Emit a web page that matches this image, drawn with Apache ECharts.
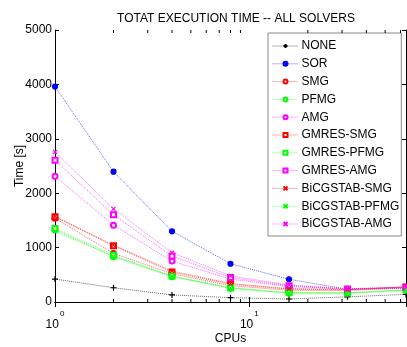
<!DOCTYPE html>
<html>
<head>
<meta charset="utf-8">
<script src="https://cdn.jsdelivr.net/npm/echarts@6/dist/echarts.min.js"></script>
<style>html,body{margin:0;padding:0;background:#fff;}#c{width:407px;height:347px;}</style>
</head>
<body>
<div id="c"></div>
<script>
var cpus = [1, 2, 4, 8, 16, 32, 64];
var none = [422, 262, 130, 80, 55, 95, 140];
var sor = [3960, 2395, 1300, 703, 418, 233, 250];
var smg = [1540, 893, 520, 300, 215, 210, 260];
var pfmg = [1333, 830, 465, 250, 160, 160, 215];
var amg = [2312, 1413, 752, 420, 285, 235, 265];
var gmresSmg = [1565, 1033, 550, 325, 235, 225, 275];
var gmresPfmg = [1350, 860, 480, 265, 175, 170, 225];
var gmresAmg = [2605, 1602, 844, 450, 300, 240, 270];
var bicgSmg = [1575, 1045, 570, 340, 245, 230, 280];
var bicgPfmg = [1300, 840, 470, 255, 165, 165, 220];
var bicgAmg = [2758, 1712, 905, 480, 310, 245, 272];
var names = ['NONE','SOR','SMG','PFMG','AMG','GMRES-SMG','GMRES-PFMG','GMRES-AMG','BiCGSTAB-SMG','BiCGSTAB-PFMG','BiCGSTAB-AMG'];
var yTicks = [0, 1000, 2000, 3000, 4000, 5000];
var minorTicks = [2,3,4,5,6,7,8,9,20,30,40,50,60];

var FONT = 'Liberation Sans, Arial, Helvetica, sans-serif';
var PLUS = 'path://M5,0V10M0,5H10';
var CROSS = 'path://M0,0L10,10M10,0L0,10';
var specs = [
  [none, '#000000', PLUS, 6],
  [sor, '#0000ff', 'circle', 5],
  [smg, '#ff0000', 'emptyCircle', 5],
  [pfmg, '#00ff00', 'emptyCircle', 5],
  [amg, '#ff00ff', 'emptyCircle', 5],
  [gmresSmg, '#ff0000', 'emptyRect', 5],
  [gmresPfmg, '#00ff00', 'emptyRect', 5],
  [gmresAmg, '#ff00ff', 'emptyRect', 5],
  [bicgSmg, '#ff0000', CROSS, 4],
  [bicgPfmg, '#00ff00', CROSS, 4],
  [bicgAmg, '#ff00ff', CROSS, 4]
];
var series = specs.map(function (s, i) {
  return {
    name: names[i], type: 'line',
    data: cpus.map(function (c, j) { return [c, s[0][j]]; }),
    symbol: s[2], symbolSize: s[3], showAllSymbol: true,
    lineStyle: { color: s[1], width: 1, type: 'dotted', opacity: 0.6 },
    itemStyle: { color: s[1], borderColor: s[1], borderWidth: 1.2 },
    emphasis: { disabled: true }, animation: false
  };
});
series.push({
  type: 'custom', silent: true, animation: false, z: 10,
  data: minorTicks.map(function (v) { return [v, 0]; }),
  renderItem: function (params, api) {
    var b = api.coord([api.value(0), 0]);
    var t = api.coord([api.value(0), 5000]);
    return { type: 'group', children: [
      { type: 'line', shape: { x1: b[0], y1: b[1], x2: b[0], y2: b[1] - 3 }, style: { stroke: '#000', lineWidth: 1 } },
      { type: 'line', shape: { x1: t[0], y1: t[1], x2: t[0], y2: t[1] + 3 }, style: { stroke: '#000', lineWidth: 1 } }
    ] };
  }
});

var chart = echarts.init(document.getElementById('c'), null, { renderer: 'canvas' });
var axisLine = { show: true, lineStyle: { color: '#000', width: 1 } };
chart.setOption({
  animation: false,
  backgroundColor: '#fff',
  textStyle: { fontFamily: FONT },
  title: { text: 'TOTAT EXECUTION TIME -- ALL SOLVERS', left: 231, top: 8, textAlign: 'center',
    textStyle: { fontSize: 12, fontWeight: 'normal', color: '#000', fontFamily: FONT } },
  grid: { left: 55, top: 30, right: 1, bottom: 45, containLabel: false, outerBoundsMode: 'none' },
  legend: {
    data: names, orient: 'vertical', left: 268, top: 33,
    backgroundColor: '#fff', borderColor: '#888', borderWidth: 1,
    padding: [7, 2, 6, 4], itemWidth: 26, itemHeight: 5, itemGap: 5.8,
    lineStyle: { width: 1, type: 'dotted' },
    textStyle: { fontSize: 12, color: '#000', fontFamily: FONT, padding: [0, 0, 0, -2] },
    selectedMode: false
  },
  xAxis: [{
    type: 'log', logBase: 10, min: 1, max: 64, position: 'bottom',
    name: 'CPUs', nameLocation: 'middle', nameGap: 31, nameMoveOverlap: false,
    nameTextStyle: { fontSize: 12, color: '#000', fontFamily: FONT },
    axisLine: axisLine,
    axisTick: { show: true, inside: true, length: 5, lineStyle: { color: '#000' } },
    splitLine: { show: false },
    axisLabel: {
      margin: 8, color: '#000',
      formatter: function (v) {
        var e = Math.round(Math.log10(v));
        if (Math.abs(Math.pow(10, e) - v) > 1e-6) return '';
        return '{b|10}{s|' + e + '}';
      },
      rich: {
        b: { fontSize: 12, color: '#000', fontFamily: FONT, verticalAlign: 'bottom', lineHeight: 21 },
        s: { fontSize: 8, color: '#000', fontFamily: FONT, verticalAlign: 'top', lineHeight: 8, padding: [0, 0, 0, 1] }
      }
    }
  }, {
    type: 'log', logBase: 10, min: 1, max: 64, position: 'top',
    axisLine: axisLine,
    axisTick: { show: true, inside: true, length: 5, lineStyle: { color: '#000' } },
    axisLabel: { show: false }, splitLine: { show: false }
  }],
  yAxis: [{
    type: 'value', min: 0, max: 5000, interval: 1000, position: 'left',
    name: 'Time [s]', nameLocation: 'middle', nameGap: 29, nameRotate: 90, nameMoveOverlap: false,
    nameTextStyle: { fontSize: 12, color: '#000', fontFamily: FONT },
    axisLine: axisLine,
    axisTick: { show: true, inside: true, length: 4, lineStyle: { color: '#000' } },
    splitLine: { show: false },
    axisLabel: { margin: 3, fontSize: 12, color: '#000', fontFamily: FONT,
      formatter: function (v) { return yTicks.indexOf(v) >= 0 ? String(v) : ''; } }
  }, {
    type: 'value', min: 0, max: 5000, interval: 1000, position: 'right',
    axisLine: axisLine,
    axisTick: { show: true, inside: true, length: 4, lineStyle: { color: '#000' } },
    axisLabel: { show: false }, splitLine: { show: false }
  }],
  series: series
});
</script>
</body>
</html>
